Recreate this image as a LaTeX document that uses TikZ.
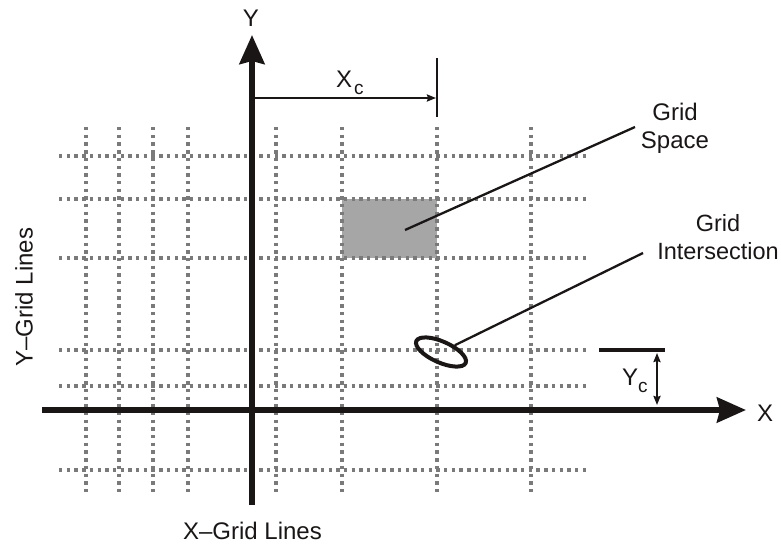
\documentclass[tikz,border=0pt]{standalone}
\usepackage{fontspec}
\setmainfont{Liberation Sans}
\usetikzlibrary{arrows.meta,shapes.geometric}
\definecolor{dotgray}{HTML}{7A7A7A}
\definecolor{boxgray}{HTML}{A6A6A6}
\definecolor{ink}{HTML}{1A1616}
\tikzset{
  gridline/.style={draw=dotgray,line width=3.4pt,dash pattern=on 3.4pt off 4.3pt},
  axisline/.style={draw=ink,line width=5.5pt,-{Stealth[length=29pt,width=25pt,inset=3pt]}},
  dimline/.style={draw=ink,line width=2.5pt},
  dimarrow/.style={dimline,-{Stealth[length=9pt,width=7pt,inset=1pt]}},
  dimboth/.style={dimline,{Stealth[length=9pt,width=7pt,inset=1pt]}-{Stealth[length=9pt,width=7pt,inset=1pt]}},
  leader/.style={draw=ink,line width=2.3pt},
  lbl/.style={inner sep=0pt,font=\fontsize{24}{28}\selectfont,text=ink},
  subc/.style={font=\fontsize{19}{19}\selectfont}
}
\begin{document}
\begin{tikzpicture}[x=1pt,y=-1pt]
\useasboundingbox (0,0) rectangle (781,544);
% grid space
\fill[boxgray] (342,199) rectangle (437,258);
% grid lines
\foreach \x in {86,119,153,188,276,342,437,531}
  \draw[gridline] (\x,127) -- (\x,493);
\foreach \y in {156,199,258,350,386,470}
  \draw[gridline] (59,\y) -- (588,\y);
% axes
\coordinate (xa0) at (42,410);
\coordinate (xa1) at (746,410);
\coordinate (ya0) at (252,505);
\coordinate (ya1) at (252,35);
\draw[axisline] (xa0) -- (xa1);
\draw[axisline] (ya0) -- (ya1);
\node[lbl] (xlab) at (765,413) {X};
\node[lbl] (ylab) at (251,18.5) {Y};
% Xc dimension
\coordinate (xc0) at (255,98);
\coordinate (xc1) at (436,98);
\coordinate (xt0) at (437,58);
\coordinate (xt1) at (437,117);
\draw[dimarrow] (xc0) -- (xc1);
\draw[dimline] (xt0) -- (xt1);
\node[lbl,anchor=base west] (xclab) at (336,87) {X\kern2pt\raisebox{-7pt}{\fontsize{19}{19}\selectfont c}};
% Yc dimension
\coordinate (yl0) at (599,350);
\coordinate (yl1) at (665,350);
\draw[draw=ink,line width=4pt] (yl0) -- (yl1);
\coordinate (yc0) at (657,353);
\coordinate (yc1) at (657,405);
\draw[dimboth] (yc0) -- (yc1);
\node[lbl,anchor=base west] (yclab) at (622,385) {Y\raisebox{-7pt}{\fontsize{19}{19}\selectfont c}};
% grid space label and leader
\node[lbl,align=center] (gslab) at (675,128) {Grid\\Space};
\coordinate (gs0) at (405,230);
\coordinate (gs1) at (635,127);
\draw[leader] (gs0) -- (gs1);
% grid intersection label and leader
\node[lbl,align=center,font=\fontsize{23.5}{28}\selectfont] (gilab) at (718,237) {Grid\\Intersection};
\node[ellipse,draw=ink,line width=4pt,minimum width=54pt,minimum height=21pt,inner sep=0pt,rotate=-24] (gi) at (441,352) {};
\coordinate (gi1) at (643,253);
\draw[leader] (gi) -- (gi1);
% axis grid labels
\node[lbl] (xglab) at (252.5,531) {X--Grid Lines};
\node[lbl,rotate=90] (yglab) at (24,297) {Y--Grid Lines};
\end{tikzpicture}
\end{document}
